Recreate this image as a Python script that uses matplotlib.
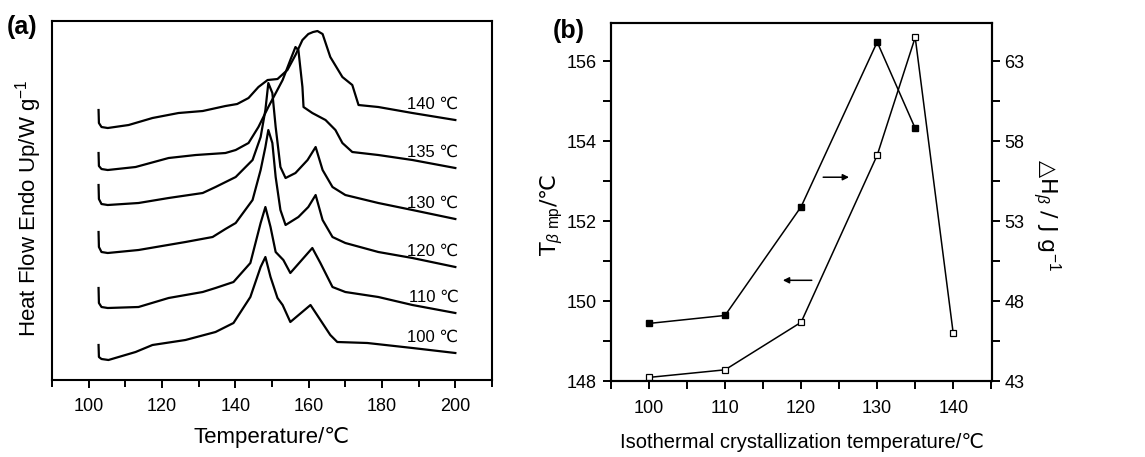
import matplotlib
matplotlib.use("Agg")
import matplotlib.pyplot as plt
from matplotlib.ticker import MultipleLocator

plt.rcParams['font.family'] = ['Liberation Sans', 'DejaVu Sans']
plt.rcParams['mathtext.fontset'] = 'custom'
plt.rcParams['mathtext.rm'] = 'Liberation Sans'
plt.rcParams['mathtext.it'] = 'Liberation Sans:italic'
plt.rcParams['mathtext.bf'] = 'Liberation Sans:bold'

# ---- (a) DSC melting curves, heat flow in arbitrary stacked units ----
t_140 = [102.7, 102.8, 103.5, 105.2, 110.9, 117.4, 124.5, 131.1, 137.3, 140.5, 143.6, 146.3, 148.8,
         151.5, 154.2, 156.4, 158.3, 159.9, 161.2, 162.4, 163.8, 165.9, 169.2, 171.9, 173.6, 179.0, 188.3, 200.0]
h_140 = [27.0, 25.7, 25.3, 25.2, 25.5, 26.2, 26.7, 26.9, 27.4, 27.6, 28.2, 29.3, 30.0,
         30.1, 31.0, 32.5, 34.0, 34.6, 34.8, 34.9, 34.6, 32.3, 30.3, 29.5, 27.5, 27.3, 26.7, 26.0]

t_135 = [102.7, 102.8, 103.5, 105.2, 112.8, 121.8, 129.2, 137.3, 140.1, 143.6, 146.3, 149.0, 152.9,
         155.0, 156.4, 157.2, 158.3, 158.6, 161.0, 164.6, 167.3, 169.2, 171.9, 179.0, 188.3, 200.0]
h_135 = [22.7, 21.4, 21.1, 21.0, 21.3, 22.2, 22.5, 22.7, 23.0, 23.7, 25.3, 27.3, 30.0,
         32.0, 33.3, 33.0, 29.3, 27.3, 26.7, 26.0, 25.0, 23.7, 22.8, 22.5, 22.0, 21.2]

t_130 = [102.7, 102.8, 103.5, 105.2, 113.6, 121.8, 131.1, 134.6, 140.1, 144.7, 146.9, 148.2, 149.0,
         150.1, 151.0, 152.3, 153.7, 156.4, 159.7, 161.9, 163.8, 166.5, 170.0, 179.0, 188.3, 200.0]
h_130 = [19.5, 18.1, 17.6, 17.5, 17.7, 18.2, 18.7, 19.3, 20.3, 22.0, 24.3, 27.0, 29.7,
         28.7, 25.3, 21.3, 20.2, 20.7, 22.0, 23.3, 21.0, 19.3, 18.5, 17.7, 17.0, 16.1]

t_120 = [102.7, 102.8, 103.5, 105.2, 113.6, 126.4, 133.8, 137.3, 140.1, 144.7, 146.9, 148.2, 149.0,
         150.1, 151.0, 152.3, 153.7, 157.2, 159.9, 161.9, 163.8, 166.5, 170.0, 179.0, 188.3, 200.0]
h_120 = [14.8, 13.3, 12.8, 12.7, 13.0, 13.8, 14.3, 15.1, 15.7, 18.0, 21.0, 23.3, 25.0,
         23.7, 20.3, 17.0, 15.5, 16.3, 17.3, 18.5, 16.0, 14.3, 13.7, 12.8, 12.2, 11.3]

t_110 = [102.7, 102.8, 103.5, 105.2, 113.6, 121.8, 131.1, 134.6, 139.5, 144.1, 146.9, 148.2,
         149.6, 151.0, 153.1, 155.0, 161.0, 163.2, 166.5, 170.0, 179.0, 188.3, 200.0]
h_110 = [9.2, 7.7, 7.3, 7.2, 7.3, 8.2, 8.8, 9.2, 9.8, 11.7, 15.7, 17.3,
         15.3, 12.8, 12.0, 10.7, 13.2, 11.7, 9.3, 8.8, 8.3, 7.5, 6.7]

t_100 = [102.7, 102.8, 103.5, 105.4, 112.8, 117.4, 126.4, 134.6, 139.5, 144.1, 146.9, 148.2,
         149.6, 151.5, 152.9, 155.0, 160.5, 163.2, 165.9, 167.8, 176.0, 188.3, 200.0]
h_100 = [3.5, 2.3, 2.1, 2.0, 2.8, 3.5, 4.0, 4.8, 5.7, 8.3, 11.3, 12.3,
         10.3, 8.2, 7.5, 5.8, 7.5, 6.0, 4.5, 3.8, 3.7, 3.2, 2.7]

curve_labels = ['140 ℃', '135 ℃', '130 ℃', '120 ℃', '110 ℃', '100 ℃']

# ---- (b) melting point and enthalpy of beta phase ----
tc = [100, 110, 120, 130, 135, 140]
t_mp = [148.09, 148.28, 149.47, 153.65, 156.6, 149.19]
tc_dh = [100, 110, 120, 130, 135]
dh = [46.6, 47.1, 53.9, 64.2, 58.8]

fig = plt.figure(figsize=(11.45, 4.57), dpi=100)

# panel (a)
ax1 = fig.add_axes([0.0454, 0.1685, 0.3843, 0.7855])
curves = [(t_140, h_140), (t_135, h_135), (t_130, h_130),
          (t_120, h_120), (t_110, h_110), (t_100, h_100)]
for (t, h), lab in zip(curves, curve_labels):
    ax1.plot(t, h, color='black', lw=1.6, solid_joinstyle='round')
    ax1.text(200.8, h[-1] + 1.6, lab, ha='right', va='center', fontsize=12)

ax1.set_xlim(90, 210)
ax1.set_ylim(0, 35.9)
ax1.xaxis.set_major_locator(MultipleLocator(20))
ax1.xaxis.set_minor_locator(MultipleLocator(10))
ax1.tick_params(axis='x', which='both', direction='out', width=1.4, labelsize=13, pad=7)
ax1.tick_params(axis='x', which='major', length=6)
ax1.tick_params(axis='x', which='minor', length=5)
ax1.tick_params(axis='y', left=False, labelleft=False)
for s in ax1.spines.values():
    s.set_linewidth(1.5)
ax1.set_xlabel('Temperature/℃', fontsize=16, va='center')
ax1.xaxis.set_label_coords(0.5, -0.159)
ax1.set_ylabel('Heat Flow Endo Up/W g$^{-1}$', fontsize=16, va='center', ha='center')
ax1.yaxis.set_label_coords(-0.054, 0.48)

# panel (b)
ax2 = fig.add_axes([0.5336, 0.1663, 0.3328, 0.7834])
ax3 = ax2.twinx()
ax2.plot(tc, t_mp, color='black', lw=1.1, marker='s', markersize=4.5,
         markerfacecolor='white', markeredgecolor='black', markeredgewidth=0.9)
ax3.plot(tc_dh, dh, color='black', lw=1.1, marker='s', markersize=4,
         markerfacecolor='black', markeredgecolor='black')

ax2.set_xlim(95, 145.1)
ax2.set_ylim(148, 156.96)
ax3.set_ylim(43, 65.39)
ax2.xaxis.set_major_locator(MultipleLocator(10))
ax2.xaxis.set_minor_locator(MultipleLocator(5))
ax2.yaxis.set_major_locator(MultipleLocator(2))
ax2.yaxis.set_minor_locator(MultipleLocator(1))
ax3.set_yticks([43, 48, 53, 58, 63])
ax3.set_yticks([45.5, 50.5, 55.5, 60.5], minor=True)

ax2.tick_params(axis='x', which='both', direction='out', length=6, width=1.4, labelsize=13, pad=8)
ax2.tick_params(axis='y', which='both', direction='out', length=6, width=1.4, labelsize=13, pad=4)
ax3.tick_params(axis='y', which='both', direction='out', length=6, width=1.4, labelsize=13, pad=3)
for a in (ax2, ax3):
    for s in a.spines.values():
        s.set_linewidth(1.5)

ax2.annotate('', xy=(126.3, 153.1), xytext=(122.9, 153.1),
             arrowprops=dict(arrowstyle='-|>', color='black', lw=1.1, mutation_scale=9,
                             shrinkA=0, shrinkB=0))
ax2.annotate('', xy=(117.6, 150.52), xytext=(121.4, 150.52),
             arrowprops=dict(arrowstyle='-|>', color='black', lw=1.1, mutation_scale=9,
                             shrinkA=0, shrinkB=0))

ax2.set_xlabel('Isothermal crystallization temperature/℃', fontsize=14.5, va='center')
ax2.xaxis.set_label_coords(0.5, -0.173)
ax2.set_ylabel('T$_{\\beta\\ \\mathrm{mp}}$/℃', fontsize=16, va='center', ha='center',
               family=['DejaVu Sans'])
ax2.yaxis.set_label_coords(-0.155, 0.464)
ax3.set_ylabel('△H$_{\\beta}$ / J g$^{-1}$', fontsize=16, rotation=270, va='center', ha='center',
               family=['DejaVu Sans'])
ax3.yaxis.set_label_coords(1.144, 0.464)

fig.text(0.006, 0.94, '(a)', fontsize=18, fontweight='bold', ha='left', va='center')
fig.text(0.483, 0.932, '(b)', fontsize=18, fontweight='bold', ha='left', va='center')

fig.savefig('out.png', dpi=100)
